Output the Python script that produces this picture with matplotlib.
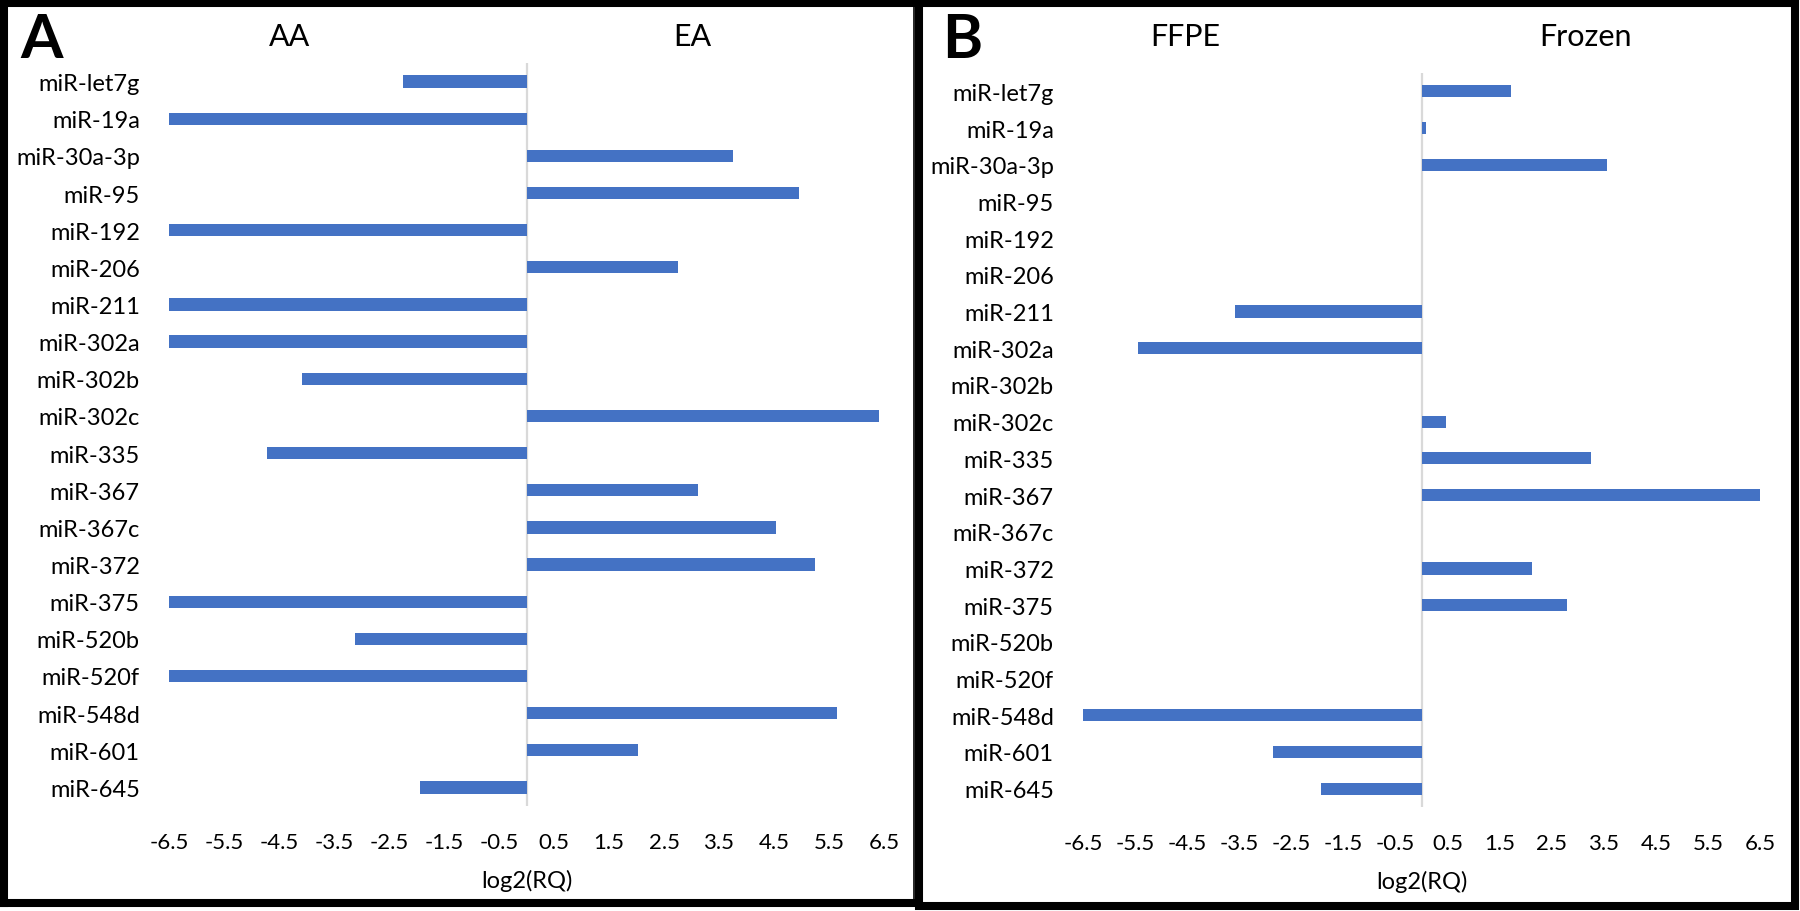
import numpy as np
import matplotlib.pyplot as plt
from matplotlib.patches import Rectangle
from matplotlib.lines import Line2D

plt.rcParams['font.family'] = ['Lato', 'DejaVu Sans']

mirnas = ['miR-let7g', 'miR-19a', 'miR-30a-3p', 'miR-95', 'miR-192', 'miR-206',
          'miR-211', 'miR-302a', 'miR-302b', 'miR-302c', 'miR-335', 'miR-367',
          'miR-367c', 'miR-372', 'miR-375', 'miR-520b', 'miR-520f', 'miR-548d',
          'miR-601', 'miR-645']

# panel A: AA (negative) vs EA (positive)
vals_a = [-2.24, -6.5, 3.75, 4.95, -6.5, 2.75, -6.5, -6.5, -4.08, 6.40,
          -4.71, 3.11, 4.54, 5.25, -6.5, -3.12, -6.5, 5.64, 2.02, -1.94]
# panel B: FFPE (negative) vs Frozen (positive)
vals_b = [1.71, 0.09, 3.56, 0, 0, 0, -3.58, -5.45, 0, 0.48,
          3.26, 6.5, 0, 2.12, 2.80, 0, 0, -6.5, -2.85, -1.93]

ticks = np.arange(-6.5, 7, 1)
tick_labels = ['%.1f' % t for t in ticks]

W, H = 1800, 912
fig = plt.figure(figsize=(18, 9.12), dpi=100)


def px(x, y):
    return x / W, 1 - y / H


def draw(ax, vals):
    y = np.arange(len(mirnas))
    ax.axvline(0, color='#d9d9d9', lw=1.6, zorder=0)
    ax.barh(y, vals, height=0.33, color='#4472C4', zorder=2)
    ax.set_ylim(len(mirnas) - 0.5, -0.5)
    ax.set_xlim(-6.5, 6.5)
    ax.set_yticks(y)
    ax.set_yticklabels(mirnas, fontsize=17)
    ax.set_xticks(ticks)
    ax.set_xticklabels(tick_labels, fontsize=16)
    ax.tick_params(axis='y', length=0, pad=21)
    ax.tick_params(axis='x', length=0, pad=19)
    for s in ax.spines.values():
        s.set_visible(False)
    ax.set_xlabel('log2(RQ)', fontsize=17, labelpad=12)


# panel A
axA = fig.add_axes([169 / W, 1 - 807 / H, (884 - 169) / W, (807 - 64) / H])
draw(axA, vals_a)
# panel B
axB = fig.add_axes([1083 / W, 1 - 808 / H, (1760 - 1083) / W, (808 - 74) / H])
draw(axB, vals_b)

fig.text(*px(42, 40), 'A', fontsize=44, fontweight='bold', ha='center', va='center')
fig.text(*px(962, 40), 'B', fontsize=44, fontweight='bold', ha='center', va='center')
fig.text(*px(290, 37), 'AA', fontsize=22, ha='center', va='center')
fig.text(*px(692, 37), 'EA', fontsize=22, ha='center', va='center')
fig.text(*px(1185, 37), 'FFPE', fontsize=22, ha='center', va='center')
fig.text(*px(1585, 37), 'Frozen', fontsize=22, ha='center', va='center')

# panel frames
lw = 5.8


def seg(x0, y0, x1, y1, w):
    a, b = px(x0, y0)
    c, d = px(x1, y1)
    fig.add_artist(Line2D([a, c], [b, d], transform=fig.transFigure,
                          color='black', lw=w, solid_capstyle='projecting'))


# frame A: thin right side (hidden under B's frame)
seg(4, 4, 4, 904, lw)
seg(4, 4, 914, 4, lw)
seg(4, 904, 914, 904, lw)
seg(914, 4, 914, 904, 1.2)

fig.add_artist(Rectangle(px(919, 907), 876 / W, 903 / H, transform=fig.transFigure,
                         fill=False, ec='black', lw=lw))

fig.savefig('out.png', dpi=100, facecolor='white')
